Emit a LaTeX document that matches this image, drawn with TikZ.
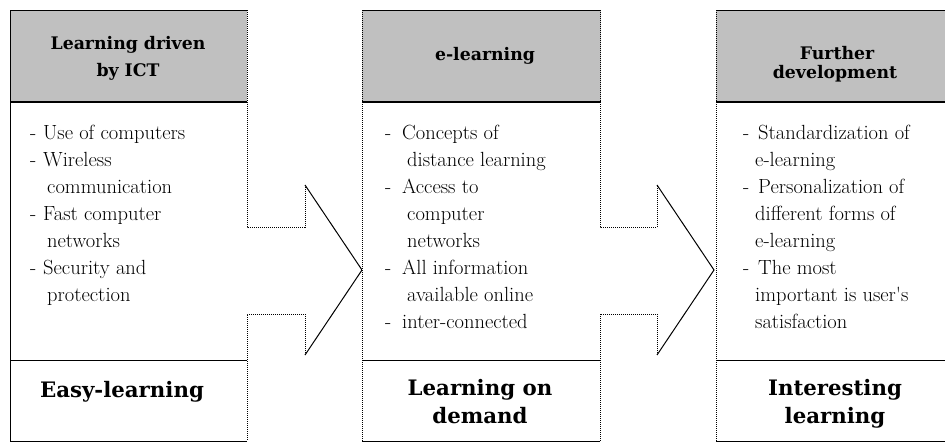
\documentclass[tikz,border=0pt]{standalone}
\usepackage{fontspec}
\newfontfamily\slabfont{DejaVu Serif}
\definecolor{hdrgray}{RGB}{192,192,192}
\tikzset{
 edge/.style={line width=1pt, black},
 dotedge/.style={line width=1pt, black, dash pattern=on 1pt off 1pt},
 hdrline/.style={line width=2pt, black},
 hdr/.style={font=\slabfont\fontsize{17.3}{17.3}\selectfont\bfseries, anchor=base, inner sep=0pt},
 body/.style={font=\fontsize{20.5}{20.5}\selectfont, anchor=base west, inner sep=0pt},
 foot/.style={font=\slabfont\fontsize{21.3}{21.3}\selectfont\bfseries, anchor=base, inner sep=0pt},
}
\begin{document}
\begin{tikzpicture}[x=1pt,y=-1pt]
\useasboundingbox (0,0) rectangle (945,442);
\clip (0,0) rectangle (945,442);
\fill[white] (0,0) rectangle (945,442);

% ---------- column 1 with arrow ----------
\fill[white] (10,10) -- (247,10) -- (247,227) -- (305,227) -- (305,185) -- (362,270) -- (305,355) -- (305,314) -- (247,314) -- (247,441) -- (10,441) -- cycle;
\fill[hdrgray] (10,10) rectangle (247,102);
\draw[edge] (247,441) -- (10,441) -- (10,10) -- (247,10);
\draw[dotedge] (247,10) -- (247,227) -- (305,227) -- (305,185);
\draw[edge] (305,185) -- (362,270) -- (305,355);
\draw[dotedge] (305,355) -- (305,314) -- (247,314) -- (247,441);
\draw[hdrline] (10,102) -- (247,102);
\draw[edge] (10,360) -- (247,360);

% ---------- column 2 with arrow ----------
\fill[white] (362,10) -- (600,10) -- (600,227) -- (657,227) -- (657,185) -- (714,270) -- (657,355) -- (657,314) -- (600,314) -- (600,441) -- (362,441) -- cycle;
\fill[hdrgray] (362,10) rectangle (601,102);
\draw[edge] (362,10) -- (600,10);
\draw[edge] (362,441) -- (600,441);
\draw[dotedge] (362,10) -- (362,441);
\draw[dotedge] (600,10) -- (600,227) -- (657,227) -- (657,185);
\draw[edge] (657,185) -- (714,270) -- (657,355);
\draw[dotedge] (657,355) -- (657,314) -- (600,314) -- (600,441);
\draw[hdrline] (362,102) -- (601,102);
\draw[edge] (362,360) -- (600,360);

% ---------- column 3 ----------
\fill[white] (716,10) rectangle (960,441);
\fill[hdrgray] (716,10) rectangle (960,102);
\draw[edge] (716,10) -- (960,10);
\draw[edge] (716,441) -- (960,441);
\draw[dotedge] (716,10) -- (716,441);
\draw[hdrline] (716,102) -- (960,102);
\draw[edge] (716,360) -- (960,360);

% ---------- headers ----------
\node[hdr] (h1a) at (128,49) {Learning driven};
\node[hdr] (h1b) at (128,76) {by ICT};
\node[hdr] (h2) at (485,60) {e-learning};
\node[hdr] (h3a) at (837,59) {Further};
\node[hdr] (h3b) at (835,78) {development};

% ---------- body texts ----------
\foreach \d/\t [count=\i] in {1/Use of computers,1/Wireless,0/communication,1/Fast computer,0/networks,1/Security and,0/protection}{
  \pgfmathsetmacro\yy{139+27*(\i-1)}
  \ifnum\d=1
    \node[body] (a\i-dash) at (30,\yy) {-};
    \node[body] (a\i) at (43,\yy) {\t};
  \else
    \node[body] (a\i) at (47,\yy) {\t};
  \fi
}
\foreach \d/\t [count=\i] in {1/Concepts of,0/distance learning,1/Access to,0/computer,0/networks,1/All information,0/available online,1/inter-connected}{
  \pgfmathsetmacro\yy{139+27*(\i-1)}
  \ifnum\d=1
    \node[body] (b\i-dash) at (385,\yy) {-};
    \node[body] (b\i) at (402,\yy) {\t};
  \else
    \node[body] (b\i) at (407,\yy) {\t};
  \fi
}
\foreach \d/\t [count=\i] in {1/Standardization of,0/e-learning,1/Personalization of,0/different forms of,0/e-learning,1/The most,0/important is user\textquotesingle s,0/satisfaction}{
  \pgfmathsetmacro\yy{139+27*(\i-1)}
  \ifnum\d=1
    \node[body] (c\i-dash) at (743,\yy) {-};
    \node[body] (c\i) at (758,\yy) {\t};
  \else
    \node[body] (c\i) at (755,\yy) {\t};
  \fi
}

% ---------- footers ----------
\node[foot] (f1) at (122,397) {Easy-learning};
\node[foot] (f2a) at (480,395) {Learning on};
\node[foot] (f2b) at (480,423) {demand};
\node[foot] (f3a) at (835,395) {Interesting};
\node[foot] (f3b) at (835,423) {learning};
\end{tikzpicture}
\end{document}
